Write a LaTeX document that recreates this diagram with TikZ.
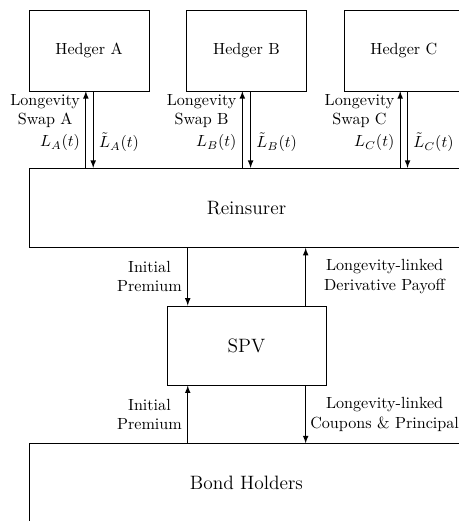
\documentclass[tikz,border=0pt]{standalone}
\usepackage{amsmath}
\usepackage{tikz}
\usetikzlibrary{arrows}

\begin{document}
\begin{tikzpicture}[->,>=latex,node distance=3.43cm,semithick]
  \tikzstyle{hedger}=[rectangle,draw=black,fill=white,thin,minimum width=2.615cm,minimum height=1.76cm]
  \tikzstyle{party}=[rectangle,draw=black,fill=white,thin,minimum height=1.73cm,font=\large]
  \clip (-5.371,1.100) rectangle (4.629,-10.253);

  \node[hedger] (B)                    {Hedger B};
  \node[hedger] (A)      [left of=B]   {Hedger A};
  \node[hedger] (C)      [right of=B]  {Hedger C};
  \node[party,minimum width=9.48cm] (R)   [below of=B]                   {Reinsurer};
  \node[party,minimum width=3.465cm] (S)  [below of=R,node distance=3cm] {SPV};
  \node[party,minimum width=9.48cm] (H)   [below of=S,node distance=3cm] {Bond Holders};

  % swap legs
  \coordinate (Aup) at ([xshift=-0.07cm]A.south);
  \coordinate (Adn) at ([xshift=0.09cm]A.south);
  \coordinate (Bup) at ([xshift=-0.09cm]B.south);
  \coordinate (Bdn) at ([xshift=0.09cm]B.south);
  \coordinate (Cup) at ([xshift=-0.08cm]C.south);
  \coordinate (Cdn) at ([xshift=0.08cm]C.south);
  % premium / payoff legs
  \coordinate (Sl) at ([xshift=-1.28cm]S.center);
  \coordinate (Sr) at ([xshift=1.29cm]S.center);

  \path (Aup |- R.north) edge  node[pos=0.33,left] {$L_A(t)$}
                               node[pos=0.74,left,align=center] {Longevity\\Swap A} (Aup)
(Adn) edge      []        node[pos=0.667,right] {$\tilde{L}_A(t)$} (Adn |- R.north)
(Bup |- R.north) edge  node[pos=0.33,left] {$L_B(t)$}
                               node[pos=0.74,left,align=center] {Longevity\\Swap B} (Bup)
(Bdn) edge      []        node[pos=0.667,right] {$\tilde{L}_B(t)$} (Bdn |- R.north)
(Cup |- R.north) edge  node[pos=0.33,left] {$L_C(t)$}
                               node[pos=0.74,left,align=center] {Longevity\\Swap C} (Cup)
(Cdn) edge      []        node[pos=0.667,right] {$\tilde{L}_C(t)$} (Cdn |- R.north)
(Sl |- R.south) edge      []        node[midway,left,align=center] {Initial\\Premium} (Sl |- S.north)
(Sr |- S.north) edge      []        node[midway,xshift=1.72cm,align=center] {Longevity-linked\\Derivative Payoff} (Sr |- R.south)
(Sl |- H.north) edge      []        node[midway,left,align=center] {Initial\\Premium} (Sl |- S.south)
(Sr |- S.south) edge      []        node[midway,xshift=1.72cm,align=center] {Longevity-linked\\Coupons \& Principal} (Sr |- H.north);
\end{tikzpicture}
\end{document}
